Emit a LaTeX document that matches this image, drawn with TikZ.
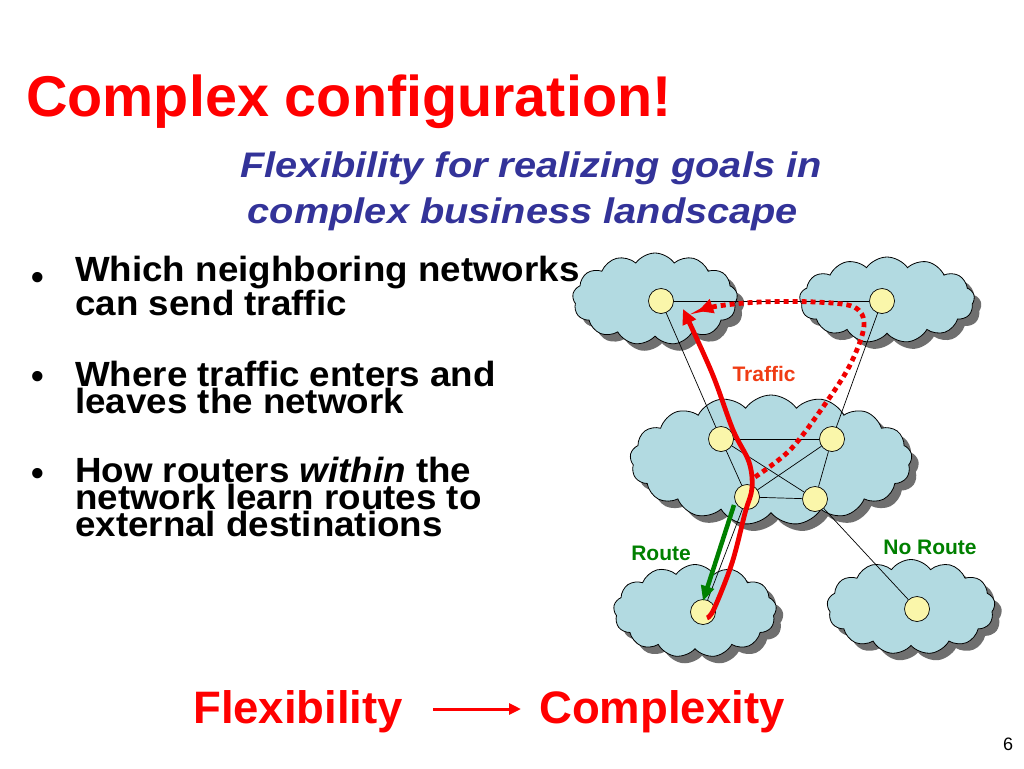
\documentclass[tikz,border=0pt]{standalone}
\usepackage{fontspec}
\setmainfont{Liberation Sans}
\newfontfamily\subfont{Liberation Sans}[FakeStretch=1.12]
\newfontfamily\bulfont{Liberation Sans}[FakeStretch=1.05]
\usetikzlibrary{shapes.symbols,shadows,arrows.meta,calc}
\definecolor{cloudblue}{RGB}{178,218,225}
\definecolor{routerfill}{RGB}{250,246,170}
\definecolor{titlered}{RGB}{255,0,0}
\definecolor{subblue}{RGB}{51,51,153}
\definecolor{trafficred}{RGB}{240,0,0}
\definecolor{routegreen}{RGB}{0,128,0}
\definecolor{labelred}{RGB}{240,60,20}
\begin{document}
\begin{tikzpicture}[x=1pt,y=-1pt,
  netcloud/.style={cloud, cloud puffs=13, cloud puff arc=110, cloud ignores aspect,
    draw=black, line width=0.8pt, fill=cloudblue, inner sep=0pt,
    drop shadow={shadow xshift=7pt, shadow yshift=-7pt, opacity=0.8, fill=black!70}},
  router/.style={circle, draw=black, line width=0.7pt, fill=routerfill,
    minimum size=25pt, inner sep=0pt},
  link/.style={draw=black, line width=0.7pt},
  titletext/.style={inner sep=0pt, anchor=base west, text=titlered,
    font=\fontsize{57.5}{60}\selectfont\bfseries},
  subtext/.style={inner sep=0pt, anchor=base, text=subblue,
    font=\subfont\fontsize{35.5}{40}\selectfont\bfseries\itshape},
  bullettext/.style={inner sep=0pt, anchor=base west, align=left, text=black,
    font=\bulfont\fontsize{35}{25.5}\selectfont\bfseries},
  bulletdot/.style={inner sep=0pt, anchor=base, text=black,
    font=\fontsize{36}{40}\selectfont\bfseries},
  bigred/.style={inner sep=0pt, anchor=base west, text=titlered,
    font=\fontsize{45.5}{50}\selectfont\bfseries},
  netlabel/.style={inner sep=0pt, anchor=base, font=\fontsize{21}{24}\selectfont\bfseries},
  traffic/.style={draw=trafficred, line width=4.8pt, -{Triangle[length=15pt,width=14pt]}},
  trafficdot/.style={draw=trafficred, line width=4.8pt, dash pattern=on 5pt off 4pt,
    -{Triangle[length=15pt,width=14pt]}},
  route/.style={draw=routegreen, line width=4.5pt, -{Triangle[length=15pt,width=13pt]}},
  flowarrow/.style={draw=titlered, line width=3pt, -{Triangle[length=12pt,width=11pt]}}
]
\useasboundingbox (0,0) rectangle (1024,768);
\fill[white] (0,0) rectangle (1024,768);

% clouds
\node[netcloud, minimum width=165pt, minimum height=92pt] (cTL) at (655,299) {};
\node[netcloud, minimum width=175pt, minimum height=86pt] (cTR) at (887,300) {};
\node[netcloud, minimum width=282pt, minimum height=130pt, cloud puffs=17] (cC) at (771,460) {};
\node[netcloud, minimum width=163pt, minimum height=93pt] (cBL) at (695,611) {};
\node[netcloud, minimum width=168pt, minimum height=95pt] (cBR) at (911,607) {};

% routers
\node[router] (TL) at (661,301) {};
\node[router] (TR) at (882,301) {};
\node[router] (A) at (721,439) {};
\node[router] (B) at (832,439) {};
\node[router] (C) at (747,497) {};
\node[router] (D) at (815,499) {};
\node[router] (BL) at (703,612) {};
\node[router] (BR) at (917,609) {};

% links
\draw[link] (TL) -- (TR);
\draw[link] (TL) -- (A);
\draw[link] (TR) -- (B);
\draw[link] (A) -- (B);
\draw[link] (A) -- (C);
\draw[link] (A) -- (D);
\draw[link] (B) -- (C);
\draw[link] (B) -- (D);
\draw[link] (C) -- (D);
\draw[link] (C) -- (BL);
\draw[link] (D) -- (BR);

% traffic (solid)
\coordinate (tStart) at (707,618);
\coordinate (tEnd) at (683,309);
\draw[traffic] plot[smooth, tension=0.55] coordinates
  {(tStart) (714,609) (732,563) (745,513) (752,488) (749,462) (733,430) (712,373) (tEnd)};

% traffic (dotted)
\coordinate (dStart) at (755,477);
\coordinate (dEnd) at (698,311);
\draw[trafficdot] plot[smooth, tension=0.55] coordinates
  {(dStart) (790,450) (823,407) (850,365) (864,326) (854,307) (815,302) (760,302) (718,306) (dEnd)};

% route (green)
\coordinate (rStart) at (734,505);
\coordinate (rEnd) at (703,601);
\draw[route] (rStart) -- (rEnd);

% network labels
\node[netlabel, text=labelred] (lTraffic) at (764,381) {Traffic};
\node[netlabel, text=routegreen] (lRoute) at (661,560) {Route};
\node[netlabel, text=routegreen] (lNoRoute) at (930,554) {No Route};

% title and subtitle
\node[titletext] (title) at (26,116) {Complex configuration!};
\node[subtext] (sub1) at (531,177) {Flexibility for realizing goals in};
\node[subtext] (sub2) at (523,223) {complex business landscape};

% bullets
\node[bulletdot] (d1) at (38,289) {•};
\node[bullettext] (b1) at (75,315) {Which neighboring networks\\can send traffic};
\node[bulletdot] (d2) at (38,388) {•};
\node[bullettext] (b2) at (75,413) {Where traffic enters and\\leaves the network};
\node[bulletdot] (d3) at (38,485) {•};
\node[bullettext] (b3) at (75,536) {How routers \textit{within} the\\network learn routes to\\external destinations};

% bottom
\node[bigred] (flex) at (193,723) {Flexibility};
\node[bigred] (compl) at (539,723) {Complexity};
\draw[flowarrow] ($(flex.base east)+(30,-14)$) coordinate (fa) -- ($(compl.base west)+(-18,-14)$) coordinate (fb);

% page number
\node[inner sep=0pt, anchor=base, font=\fontsize{18}{20}\selectfont] (pg) at (1008,750) {6};
\end{tikzpicture}
\end{document}
